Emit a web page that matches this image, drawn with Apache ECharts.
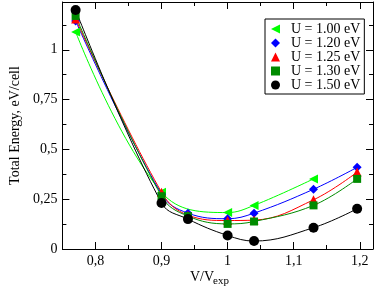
<!DOCTYPE html>
<html><head><meta charset="utf-8">
<script src="https://cdn.jsdelivr.net/npm/echarts@6/dist/echarts.min.js"></script>
<style>html,body{margin:0;padding:0;background:#fff}#c{width:374px;height:288px}</style>
</head><body><div id="c"></div>
<script>
// ---- data ----
const volume = [0.77, 0.90, 0.94, 1.00, 1.04, 1.13, 1.196];
const volumeU100 = [0.77, 0.90, 1.00, 1.04, 1.13];
const energyU100 = [1.09, 0.285, 0.183, 0.219, 0.352];
const energyU120 = [1.145, 0.275, 0.18, 0.152, 0.18, 0.30, 0.41];
const energyU125 = [1.155, 0.285, 0.17, 0.143, 0.145, 0.247, 0.386];
const energyU130 = [1.17, 0.265, 0.165, 0.126, 0.138, 0.219, 0.352];
const energyU150 = [1.20, 0.231, 0.15, 0.068, 0.040, 0.107, 0.202];
const seriesNames = ['U = 1.00 eV', 'U = 1.20 eV', 'U = 1.25 eV', 'U = 1.30 eV', 'U = 1.50 eV'];
const xMajorTicks = [0.8, 0.9, 1.0, 1.1, 1.2];
const xMinorTicks = [0.85, 0.95, 1.05, 1.15];
const yMajorTicks = [0, 0.25, 0.5, 0.75, 1];
const yMinorTicks = [0.125, 0.375, 0.625, 0.875, 1.125];

const FONT = 'Liberation Serif';
const seriesX = [volumeU100, volume, volume, volume, volume];
const seriesY = [energyU100, energyU120, energyU125, energyU130, energyU150];
const colors = ['#00ff00', '#0000ff', '#ff0000', '#008b00', '#000000'];
const symbols = ['triangle', 'diamond', 'triangle', 'rect', 'circle'];
const symbolRot = [90, 0, 0, 0, 0];
const symbolSizes = [9, 9, 9, 8, 10];
const legendIcons = ['path://M0,5L10,0L10,10Z', 'diamond', 'triangle', 'rect', 'circle'];

const fmt = v => String(+v.toFixed(3)).replace('.', ',');

function xAx(pos, ticks, len, labels, line) {
  return {
    type: 'value', position: pos, min: 0.75, max: 1.22,
    axisLine: {show: line, onZero: false, lineStyle: {color: '#000', width: 1}},
    axisTick: {show: true, inside: true, length: len, customValues: ticks, lineStyle: {color: '#000', width: 1}},
    axisLabel: labels ? {show: true, customValues: ticks, formatter: fmt, margin: 5,
      fontFamily: FONT, fontSize: 14, color: '#000'} : {show: false},
    splitLine: {show: false}
  };
}
function yAx(pos, ticks, len, labels, line) {
  return {
    type: 'value', position: pos, min: 0, max: 1.24,
    axisLine: {show: line, onZero: false, lineStyle: {color: '#000', width: 1}},
    axisTick: {show: true, inside: true, length: len, customValues: ticks, lineStyle: {color: '#000', width: 1}},
    axisLabel: labels ? {show: true, customValues: ticks, formatter: fmt, margin: 5,
      fontFamily: FONT, fontSize: 14, color: '#000'} : {show: false},
    splitLine: {show: false}
  };
}

const xAxes = [
  xAx('bottom', xMajorTicks, 7, true, true),
  xAx('bottom', xMinorTicks, 4, false, false),
  xAx('top', xMajorTicks, 7, false, true),
  xAx('top', xMinorTicks, 4, false, false)
];
const yAxes = [
  yAx('left', yMajorTicks, 7, true, true),
  yAx('left', yMinorTicks, 4, false, false),
  yAx('right', yMajorTicks, 7, false, true),
  yAx('right', yMinorTicks, 4, false, false)
];
yAxes[0].name = 'Total Energy, eV/cell';
yAxes[0].nameLocation = 'middle';
yAxes[0].nameGap = 31;
yAxes[0].nameTextStyle = {fontFamily: FONT, fontSize: 14, color: '#000'};

const series = seriesNames.map((n, i) => ({
  name: n, type: 'line', xAxisIndex: 0, yAxisIndex: 0,
  data: seriesX[i].map((x, j) => [x, seriesY[i][j]]),
  smooth: 0.4,
  symbol: symbols[i], symbolRotate: symbolRot[i], symbolSize: symbolSizes[i],
  showAllSymbol: true,
  lineStyle: {color: colors[i], width: 1},
  itemStyle: {color: colors[i], borderWidth: 0},
  animation: false
}));

const chart = echarts.init(document.getElementById('c'), null, {renderer: 'canvas'});
chart.setOption({
  backgroundColor: '#fff',
  animation: false,
  grid: {left: 47, right: 1, top: 2, bottom: 39, containLabel: false},
  xAxis: xAxes,
  yAxis: yAxes,
  legend: {
    left: 265, top: 19, orient: 'vertical',
    data: seriesNames.map((n, i) => ({name: n, icon: legendIcons[i], itemStyle: {color: colors[i]}})),
    itemWidth: 9, itemHeight: 9, itemGap: 0,
    padding: [3, 4, 2, 6],
    borderColor: '#000', borderWidth: 1, backgroundColor: '#fff',
    textStyle: {fontFamily: FONT, fontSize: 14, color: '#000', lineHeight: 13.6, padding: [0, 0, 0, 6]},
    selectedMode: false
  },
  graphic: [
    {type: 'text', left: 190, top: 270, style: {text: 'V/V', font: '14px "Liberation Serif"', fill: '#000'}},
    {type: 'text', left: 213, top: 276, style: {text: 'exp', font: '11px "Liberation Serif"', fill: '#000'}}
  ],
  series: series
});
</script>
</body></html>
